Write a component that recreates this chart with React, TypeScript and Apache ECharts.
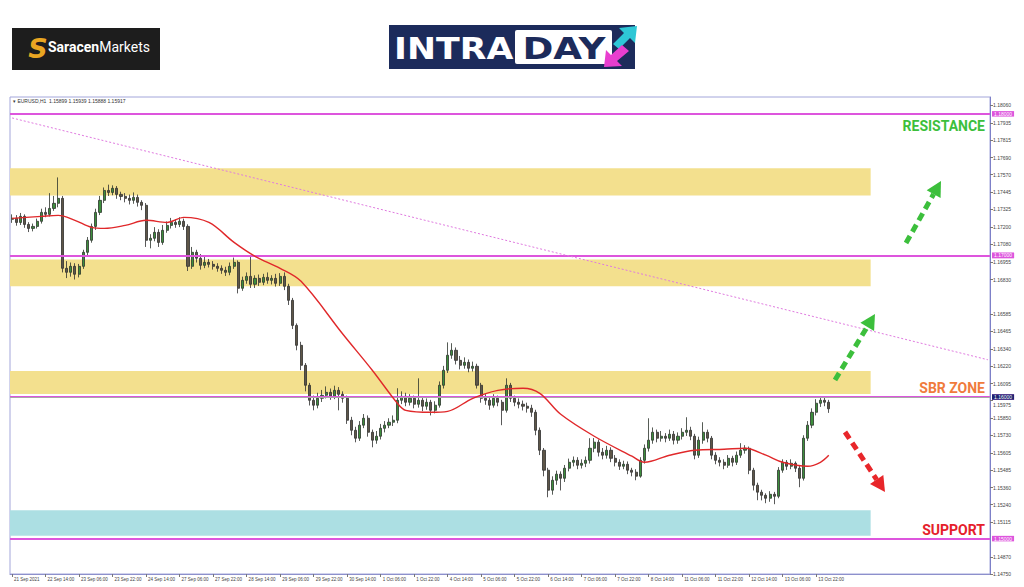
import React, { useEffect, useRef } from "react";
import * as echarts from "echarts";

// ---- x-axis tick labels (every 8 two-hour candles = 16h) ----
const xTickLabels = [
  "21 Sep 2021", "22 Sep 14:00", "23 Sep 06:00", "23 Sep 22:00", "24 Sep 14:00",
  "27 Sep 06:00", "27 Sep 22:00", "28 Sep 14:00", "29 Sep 06:00", "29 Sep 22:00",
  "30 Sep 14:00", "1 Oct 06:00", "1 Oct 22:00", "4 Oct 14:00", "5 Oct 06:00",
  "5 Oct 22:00", "6 Oct 14:00", "7 Oct 06:00", "7 Oct 22:00", "8 Oct 14:00",
  "11 Oct 06:00", "11 Oct 22:00", "12 Oct 14:00", "13 Oct 06:00", "13 Oct 22:00",
];
const labelEvery = 8;
const slotCount = 234;

// ---- y-axis tick values ----
const yTickValues = [
  1.1475, 1.1487, 1.15115, 1.1524, 1.1536, 1.15485, 1.15605, 1.1573, 1.1585,
  1.15975, 1.16095, 1.1622, 1.1634, 1.16465, 1.16585, 1.1683, 1.16955, 1.1708,
  1.172, 1.17325, 1.17445, 1.1757, 1.1769, 1.17815, 1.17935, 1.1806,
];
const shiftedTick = 1.15975;

// ---- EURUSD candles (2h) ----
const opens = [
  1.17255, 1.17262, 1.17233, 1.17276, 1.17219, 1.17191, 1.17205, 1.17241, 1.17304, 1.1729,
  1.17332, 1.17368, 1.17403, 1.16909, 1.16881, 1.16923, 1.16867, 1.16923, 1.17022, 1.17107,
  1.17205, 1.17304, 1.17389, 1.17459, 1.17445, 1.17474, 1.17431, 1.17417, 1.17403, 1.17389,
  1.1741, 1.17375, 1.17354, 1.17107, 1.17121, 1.17163, 1.17092, 1.17177, 1.17212, 1.17233,
  1.17219, 1.17241, 1.17205, 1.16923, 1.17022, 1.1698, 1.1693, 1.16951, 1.16937, 1.16923,
  1.16909, 1.16895, 1.16881, 1.16923, 1.16951, 1.16768, 1.16824, 1.16852, 1.16796, 1.16838,
  1.1681, 1.16845, 1.16824, 1.16838, 1.16803, 1.16852, 1.16782, 1.16683, 1.16506, 1.16365,
  1.16224, 1.16083, 1.15977, 1.15942, 1.15991, 1.16012, 1.16033, 1.16005, 1.16047, 1.16019,
  1.15991, 1.15836, 1.15765, 1.15709, 1.15801, 1.1585, 1.15751, 1.15695, 1.15723, 1.15779,
  1.15801, 1.15822, 1.15836, 1.15977, 1.16005, 1.15963, 1.15991, 1.15949, 1.15977, 1.15935,
  1.15963, 1.15906, 1.15942, 1.16083, 1.16189, 1.16295, 1.1633, 1.16259, 1.16224, 1.16245,
  1.16203, 1.16217, 1.16083, 1.15991, 1.15977, 1.15942, 1.15991, 1.15963, 1.15906, 1.16083,
  1.15991, 1.15963, 1.15949, 1.15935, 1.15921, 1.15892, 1.15765, 1.15624, 1.15483, 1.15342,
  1.15412, 1.15455, 1.15426, 1.15497, 1.15539, 1.15553, 1.15518, 1.15532, 1.15553, 1.15638,
  1.15681, 1.1561, 1.15589, 1.15624, 1.15567, 1.15539, 1.15511, 1.15525, 1.15483, 1.15469,
  1.15441, 1.15553, 1.15638, 1.15695, 1.15751, 1.15709, 1.15723, 1.15709, 1.15737, 1.15695,
  1.15723, 1.15751, 1.15765, 1.15723, 1.15589, 1.15695, 1.15751, 1.15709, 1.15589, 1.15553,
  1.15539, 1.15518, 1.15567, 1.15539, 1.15589, 1.15624, 1.15638, 1.15483, 1.15377, 1.15328,
  1.15306, 1.15285, 1.15313, 1.15299, 1.15483, 1.15539, 1.15511, 1.15532, 1.15497, 1.15426,
  1.15709, 1.15801, 1.15892, 1.15956, 1.15977, 1.15963,
];
const closes = [
  1.17262, 1.17233, 1.17276, 1.17219, 1.17191, 1.17205, 1.17241, 1.17304, 1.1729, 1.17332,
  1.17368, 1.17403, 1.16909, 1.16881, 1.16923, 1.16867, 1.16923, 1.17022, 1.17107, 1.17205,
  1.17304, 1.17389, 1.17459, 1.17445, 1.17474, 1.17431, 1.17417, 1.17403, 1.17389, 1.1741,
  1.17375, 1.17354, 1.17107, 1.17121, 1.17163, 1.17092, 1.17177, 1.17212, 1.17233, 1.17219,
  1.17241, 1.17205, 1.16923, 1.17022, 1.1698, 1.1693, 1.16951, 1.16937, 1.16923, 1.16909,
  1.16895, 1.16881, 1.16923, 1.16951, 1.16768, 1.16824, 1.16852, 1.16796, 1.16838, 1.1681,
  1.16845, 1.16824, 1.16838, 1.16803, 1.16852, 1.16782, 1.16683, 1.16506, 1.16365, 1.16224,
  1.16083, 1.15977, 1.15942, 1.15991, 1.16012, 1.16033, 1.16005, 1.16047, 1.16019, 1.15991,
  1.15836, 1.15765, 1.15709, 1.15801, 1.1585, 1.15751, 1.15695, 1.15723, 1.15779, 1.15801,
  1.15822, 1.15836, 1.15977, 1.16005, 1.15963, 1.15991, 1.15949, 1.15977, 1.15935, 1.15963,
  1.15906, 1.15942, 1.16083, 1.16189, 1.16295, 1.1633, 1.16259, 1.16224, 1.16245, 1.16203,
  1.16217, 1.16083, 1.15991, 1.15977, 1.15942, 1.15991, 1.15963, 1.15906, 1.16083, 1.15991,
  1.15963, 1.15949, 1.15935, 1.15921, 1.15892, 1.15765, 1.15624, 1.15483, 1.15342, 1.15412,
  1.15455, 1.15426, 1.15497, 1.15539, 1.15553, 1.15518, 1.15532, 1.15553, 1.15638, 1.15681,
  1.1561, 1.15589, 1.15624, 1.15567, 1.15539, 1.15511, 1.15525, 1.15483, 1.15469, 1.15441,
  1.15553, 1.15638, 1.15695, 1.15751, 1.15709, 1.15723, 1.15709, 1.15737, 1.15695, 1.15723,
  1.15751, 1.15765, 1.15723, 1.15589, 1.15695, 1.15751, 1.15709, 1.15589, 1.15553, 1.15539,
  1.15518, 1.15567, 1.15539, 1.15589, 1.15624, 1.15638, 1.15483, 1.15377, 1.15328, 1.15306,
  1.15285, 1.15313, 1.15299, 1.15483, 1.15539, 1.15511, 1.15532, 1.15497, 1.15426, 1.15709,
  1.15801, 1.15892, 1.15956, 1.15977, 1.15963, 1.15917,
];
const lows = [
  1.1723, 1.1721, 1.17215, 1.17195, 1.17165, 1.1717, 1.1719, 1.17225, 1.1727, 1.17275,
  1.17315, 1.1734, 1.1688, 1.1684, 1.1685, 1.1683, 1.16845, 1.16905, 1.17, 1.1709,
  1.1718, 1.17285, 1.1737, 1.1742, 1.17425, 1.174, 1.1739, 1.17375, 1.1736, 1.17365,
  1.17345, 1.1732, 1.1706, 1.1705, 1.171, 1.1706, 1.17075, 1.1716, 1.1719, 1.17195,
  1.172, 1.1718, 1.1689, 1.16905, 1.1695, 1.169, 1.1691, 1.16915, 1.169, 1.16885,
  1.1687, 1.16855, 1.1686, 1.16905, 1.16732, 1.1675, 1.168, 1.1677, 1.1677, 1.16785,
  1.1679, 1.168, 1.16795, 1.1678, 1.16785, 1.16755, 1.1665, 1.1648, 1.1633, 1.1619,
  1.1604, 1.1594, 1.15906, 1.1592, 1.15965, 1.1599, 1.1598, 1.15985, 1.15906, 1.1596,
  1.1581, 1.1573, 1.1568, 1.1569, 1.1578, 1.1572, 1.15645, 1.1567, 1.157, 1.1575,
  1.1578, 1.15795, 1.15815, 1.1595, 1.15935, 1.1594, 1.1592, 1.15925, 1.159, 1.1591,
  1.1587, 1.15885, 1.15925, 1.1606, 1.1617, 1.1627, 1.1623, 1.16195, 1.162, 1.16175,
  1.1618, 1.1606, 1.1596, 1.15945, 1.1591, 1.15925, 1.15935, 1.15801, 1.1589, 1.15965,
  1.15935, 1.1592, 1.15905, 1.1589, 1.1586, 1.1573, 1.1559, 1.1544, 1.15292, 1.1531,
  1.1538, 1.1534, 1.154, 1.15475, 1.1551, 1.1549, 1.15495, 1.15505, 1.1553, 1.1561,
  1.1558, 1.1556, 1.15565, 1.1554, 1.1551, 1.15485, 1.1549, 1.15455, 1.1544, 1.15412,
  1.1543, 1.1553, 1.15615, 1.1567, 1.1568, 1.15685, 1.1568, 1.1569, 1.15665, 1.1567,
  1.157, 1.15725, 1.15695, 1.1556, 1.1557, 1.1567, 1.1568, 1.1556, 1.15525, 1.1551,
  1.1549, 1.155, 1.1551, 1.1552, 1.1557, 1.156, 1.15455, 1.1534, 1.15271, 1.1527,
  1.1525, 1.1526, 1.15243, 1.15285, 1.15465, 1.15485, 1.1549, 1.1547, 1.15363, 1.1541,
  1.1569, 1.1578, 1.1587, 1.1593, 1.15935, 1.15888,
];
const highs = [
  1.1729, 1.17285, 1.173, 1.1729, 1.17235, 1.17225, 1.1726, 1.1733, 1.1734, 1.1744,
  1.1742, 1.17551, 1.1742, 1.1696, 1.1695, 1.16945, 1.1694, 1.1704, 1.1713, 1.17225,
  1.1733, 1.1742, 1.1748, 1.175, 1.17495, 1.1749, 1.1745, 1.1744, 1.1743, 1.17445,
  1.1743, 1.1739, 1.1737, 1.1715, 1.172, 1.17185, 1.17215, 1.1724, 1.17265, 1.17255,
  1.1727, 1.1726, 1.1722, 1.1706, 1.1704, 1.1701, 1.1699, 1.16975, 1.1696, 1.16945,
  1.1693, 1.1692, 1.1695, 1.16985, 1.16965, 1.1685, 1.1688, 1.17001, 1.1686, 1.16865,
  1.1687, 1.1688, 1.1686, 1.1687, 1.16875, 1.1688, 1.168, 1.167, 1.1652, 1.1639,
  1.1624, 1.161, 1.1601, 1.1603, 1.1605, 1.16075, 1.1606, 1.1608, 1.1607, 1.1604,
  1.1601, 1.1586, 1.1579, 1.1583, 1.1588, 1.1587, 1.1577, 1.1576, 1.1581, 1.1583,
  1.1585, 1.1587, 1.16062, 1.1604, 1.1603, 1.1602, 1.1601, 1.16132, 1.16, 1.1599,
  1.1598, 1.1597, 1.1611, 1.1622, 1.16386, 1.1638, 1.1635, 1.1629, 1.1628, 1.16265,
  1.1625, 1.16235, 1.161, 1.1602, 1.16, 1.1602, 1.1601, 1.1598, 1.16132, 1.161,
  1.1601, 1.1599, 1.15975, 1.1596, 1.15945, 1.1591, 1.15785, 1.1564, 1.155, 1.1544,
  1.1548, 1.15475, 1.1552, 1.15565, 1.1558, 1.15575, 1.1556, 1.1558, 1.15709, 1.1571,
  1.157, 1.1564, 1.15655, 1.15645, 1.1559, 1.1556, 1.1555, 1.15545, 1.155, 1.1549,
  1.15575, 1.15665, 1.1585, 1.15785, 1.1577, 1.1576, 1.15745, 1.1577, 1.1576, 1.1575,
  1.1578, 1.15857, 1.1579, 1.1574, 1.1572, 1.15822, 1.1577, 1.15725, 1.1561, 1.15575,
  1.1556, 1.1559, 1.15585, 1.15615, 1.15674, 1.1566, 1.1565, 1.155, 1.15395, 1.15345,
  1.1532, 1.15335, 1.1533, 1.15505, 1.1556, 1.15555, 1.1556, 1.15545, 1.1552, 1.1573,
  1.1583, 1.1592, 1.15985, 1.16, 1.15998, 1.1598,
];

// ---- moving average (read at sample candles) ----
const maIndex = [
  0, 7, 11, 15, 19, 22, 27, 32, 37, 41, 47, 53, 58, 64, 69, 79, 86, 92, 94, 100,
  104, 110, 116, 122, 126, 131, 139, 148, 151, 157, 163, 170, 175, 180, 184, 190, 193, 195,
];
const maValues = [
  1.17262, 1.17276, 1.17283, 1.17248, 1.17198, 1.17191, 1.17212, 1.17248, 1.17233, 1.17269,
  1.17233, 1.17092, 1.16994, 1.16909, 1.16817, 1.16443, 1.16189, 1.15956, 1.15906, 1.15892,
  1.15899, 1.15991, 1.16047, 1.16062, 1.16026, 1.15878, 1.15723, 1.15582, 1.15539, 1.15589,
  1.15624, 1.15631, 1.15638, 1.15589, 1.15539, 1.15511, 1.15539, 1.15589,
];

// ---- levels & zones ----
const solidLevels = [1.18, 1.17, 1.16, 1.15];
const dottedLevel = 1.1671;
const currentPrice = 1.15917;
const trendStart = [0, 1.17971];
const trendEnd = [233, 1.16263];
const yellowZones = [
  [1.17615, 1.17424],
  [1.16972, 1.16782],
  [1.16184, 1.16022],
];
const supportZone = [1.152, 1.15021];
const zoneEndIndex = 205;

const MAGENTA = "#dd55dd";

const arrows = [
  { from: [906, 243], to: [941, 181], color: "#3cbf3c" },
  { from: [835, 380], to: [875, 314], color: "#3cbf3c" },
  { from: [845, 432], to: [885, 492], color: "#e8262a" },
];

function arrowGraphics(a: any) {
  const [x1, y1] = a.from;
  const [x2, y2] = a.to;
  const dx = x2 - x1, dy = y2 - y1;
  const len = Math.hypot(dx, dy);
  const ux = dx / len, uy = dy / len;
  const hl = 15, hw = 8;
  const bx = x2 - ux * hl, by = y2 - uy * hl;
  const px = -uy, py = ux;
  return [
    { type: "line", z: 20, shape: { x1, y1, x2: bx, y2: by }, style: { stroke: a.color, lineWidth: 5, lineDash: [8, 5] } },
    { type: "polygon", z: 20, shape: { points: [[x2, y2], [bx + px * hw, by + py * hw], [bx - px * hw, by - py * hw]] }, style: { fill: a.color } },
  ];
}

export default function App() {
  const ref = useRef<HTMLDivElement>(null);
  useEffect(() => {
    if (!ref.current) return;
    const chart = echarts.init(ref.current, undefined, { renderer: "svg" });
    const categories = Array.from({ length: slotCount }, (_, i) => String(i));
    const candleData = opens.map((o, i) => [o, closes[i], lows[i], highs[i]]);
    const maData = maIndex.map((idx, k) => [idx, maValues[k]]);
    const showTick = (i: number) => i % labelEvery === 0 && i / labelEvery < xTickLabels.length;

    const levelLabel = (bg: string) => ({
      show: true,
      position: "end",
      distance: 2,
      formatter: (p: any) => Number(p.value).toFixed(5),
      fontSize: 5,
      lineHeight: 5.5,
      fontFamily: "Liberation Sans",
      color: "#fff",
      backgroundColor: bg,
      padding: [0, 2],
    });

    const markLineData: any[] = solidLevels.map((v) => ({
      yAxis: v,
      lineStyle: { color: MAGENTA, width: 2, type: "solid" },
      label: levelLabel(MAGENTA),
    }));
    markLineData.push({
      yAxis: dottedLevel,
      lineStyle: { color: MAGENTA, width: 1, type: [2, 2] },
      label: levelLabel(MAGENTA),
    });
    markLineData.push({
      yAxis: currentPrice,
      lineStyle: { color: "#a8a8a8", width: 1, type: "solid" },
      label: levelLabel("#1c2470"),
    });
    markLineData.push([
      { coord: trendStart, lineStyle: { color: "#e07ae0", width: 1, type: [2, 2] }, label: { show: false } },
      { coord: trendEnd },
    ]);

    const zoneData: any[] = yellowZones.map(([top, bottom]) => [
      { yAxis: top, itemStyle: { color: "#f3e08e" } },
      { xAxis: zoneEndIndex, yAxis: bottom },
    ]);
    zoneData.push([
      { yAxis: supportZone[0], itemStyle: { color: "#acdfe3" } },
      { xAxis: zoneEndIndex, yAxis: supportZone[1] },
    ]);

    const graphics: any[] = [
      // Saracen logo
      { type: "rect", shape: { x: 12, y: 28, width: 148, height: 42 }, style: { fill: "#1d1d1d" } },
      { type: "text", x: 38, y: 48, style: { text: "S", fill: "#e9a622", fontSize: 27, fontWeight: 900, fontStyle: "italic", fontFamily: "DejaVu Sans", align: "center", verticalAlign: "middle" } },
      {
        type: "text", x: 48, y: 47,
        style: {
          text: "{b|Saracen}{r|Markets}", verticalAlign: "middle", align: "left",
          rich: {
            b: { fill: "#ffffff", fontSize: 14, fontWeight: "bold", fontFamily: "Roboto" },
            r: { fill: "#ffffff", fontSize: 14, fontWeight: "normal", fontFamily: "Roboto" },
          },
        },
      },
      // INTRADAY logo
      { type: "rect", shape: { x: 389, y: 25, width: 246, height: 44 }, style: { fill: "#1c2b5b" } },
      { type: "text", x: 394, y: 48, scaleX: 1.12, style: { text: "INTRA", fill: "#ffffff", fontSize: 31, fontWeight: "bold", fontFamily: "DejaVu Sans", align: "left", verticalAlign: "middle" } },
      { type: "rect", shape: { x: 515, y: 30, width: 97, height: 34, r: 2 }, style: { fill: "#ffffff" } },
      { type: "text", x: 564, y: 48, scaleX: 1.2, style: { text: "DAY", fill: "#1c2b5b", fontSize: 31, fontWeight: "bold", fontFamily: "DejaVu Sans", align: "center", verticalAlign: "middle" } },
      { type: "polygon", shape: { points: [[637, 26], [635, 43], [630, 38], [619, 49], [613, 44], [624, 33], [619, 28]] }, style: { fill: "#2ec7d6" } },
      { type: "polygon", shape: { points: [[604, 67], [606, 50], [611, 55], [622, 45], [629, 51], [617, 61], [622, 66]] }, style: { fill: "#e83ecf" } },
      // chart header
      { type: "text", x: 13, y: 101, z: 20, style: { text: "▾ EURUSD,H1  1.15899 1.15939 1.15888 1.15917", fill: "#333", fontSize: 5, fontFamily: "Liberation Sans", align: "left", verticalAlign: "middle" } },
      // zone labels
      { type: "text", x: 985, y: 126, z: 20, style: { text: "RESISTANCE", fill: "#3cbf3c", fontSize: 14, fontWeight: "bold", fontFamily: "Roboto", align: "right", verticalAlign: "middle" } },
      { type: "text", x: 985, y: 388, z: 20, style: { text: "SBR ZONE", fill: "#f07b3c", fontSize: 14, fontWeight: "bold", fontFamily: "Roboto", align: "right", verticalAlign: "middle" } },
      { type: "text", x: 985, y: 530, z: 20, style: { text: "SUPPORT", fill: "#e5202a", fontSize: 14, fontWeight: "bold", fontFamily: "Roboto", align: "right", verticalAlign: "middle" } },
      ...arrows.flatMap(arrowGraphics),
    ];

    chart.setOption({
      animation: false,
      backgroundColor: "#ffffff",
      grid: { left: 10, right: 34, top: 97, bottom: 13, show: true, borderColor: "#a3a6da", borderWidth: 1 },
      xAxis: {
        type: "category",
        data: categories,
        boundaryGap: true,
        axisLine: { show: true, lineStyle: { color: "#8d90cc" } },
        axisTick: { show: true, length: 3, alignWithLabel: true, interval: (i: number) => showTick(i), lineStyle: { color: "#777" } },
        axisLabel: {
          interval: (i: number) => showTick(i),
          formatter: (_v: string, i: number) => xTickLabels[i / labelEvery] ?? "",
          fontSize: 4.5,
          color: "#444",
          align: "left",
          margin: 3,
          padding: [0, 0, 0, 2],
          fontFamily: "Liberation Sans",
        },
        splitLine: { show: false },
      },
      yAxis: {
        type: "value",
        position: "right",
        min: 1.1475,
        max: 1.18119,
        axisLine: { show: true, lineStyle: { color: "#7d80c8" } },
        axisTick: { show: true, length: 3, customValues: yTickValues, lineStyle: { color: "#777" } },
        axisLabel: {
          customValues: yTickValues,
          formatter: (v: number) => (Math.abs(v - shiftedTick) < 1e-7 ? `{low|${v.toFixed(5)}}` : v.toFixed(5)),
          rich: { low: { fontSize: 5, color: "#444", fontFamily: "Liberation Sans", padding: [8, 0, 0, 0] } },
          fontSize: 5,
          color: "#444",
          margin: 3,
          fontFamily: "Liberation Sans",
        },
        splitLine: { show: false },
      },
      series: [
        {
          type: "line",
          name: "zones",
          data: [],
          z: 1,
          silent: true,
          markArea: { silent: true, data: zoneData },
        },
        {
          type: "candlestick",
          name: "EURUSD",
          data: candleData,
          barWidth: 2.6,
          z: 4,
          itemStyle: {
            color: "#3d8f3d",
            color0: "#5e5648",
            borderColor: "#2c332c",
            borderColor0: "#2f2f2f",
            borderWidth: 0.8,
          },
        },
        {
          type: "line",
          name: "levels",
          data: [],
          z: 5,
          silent: true,
          markLine: { silent: true, symbol: ["none", "none"], animation: false, data: markLineData },
        },
        {
          type: "line",
          name: "MA",
          data: maData,
          smooth: 0.35,
          showSymbol: false,
          connectNulls: true,
          z: 6,
          lineStyle: { color: "#e0282a", width: 1.4 },
        },
      ],
      graphic: graphics,
    });
    return () => chart.dispose();
  }, []);
  return <div ref={ref} style={{ position: "fixed", left: 0, top: 0, width: 1024, height: 587, background: "#fff" }} />;
}
